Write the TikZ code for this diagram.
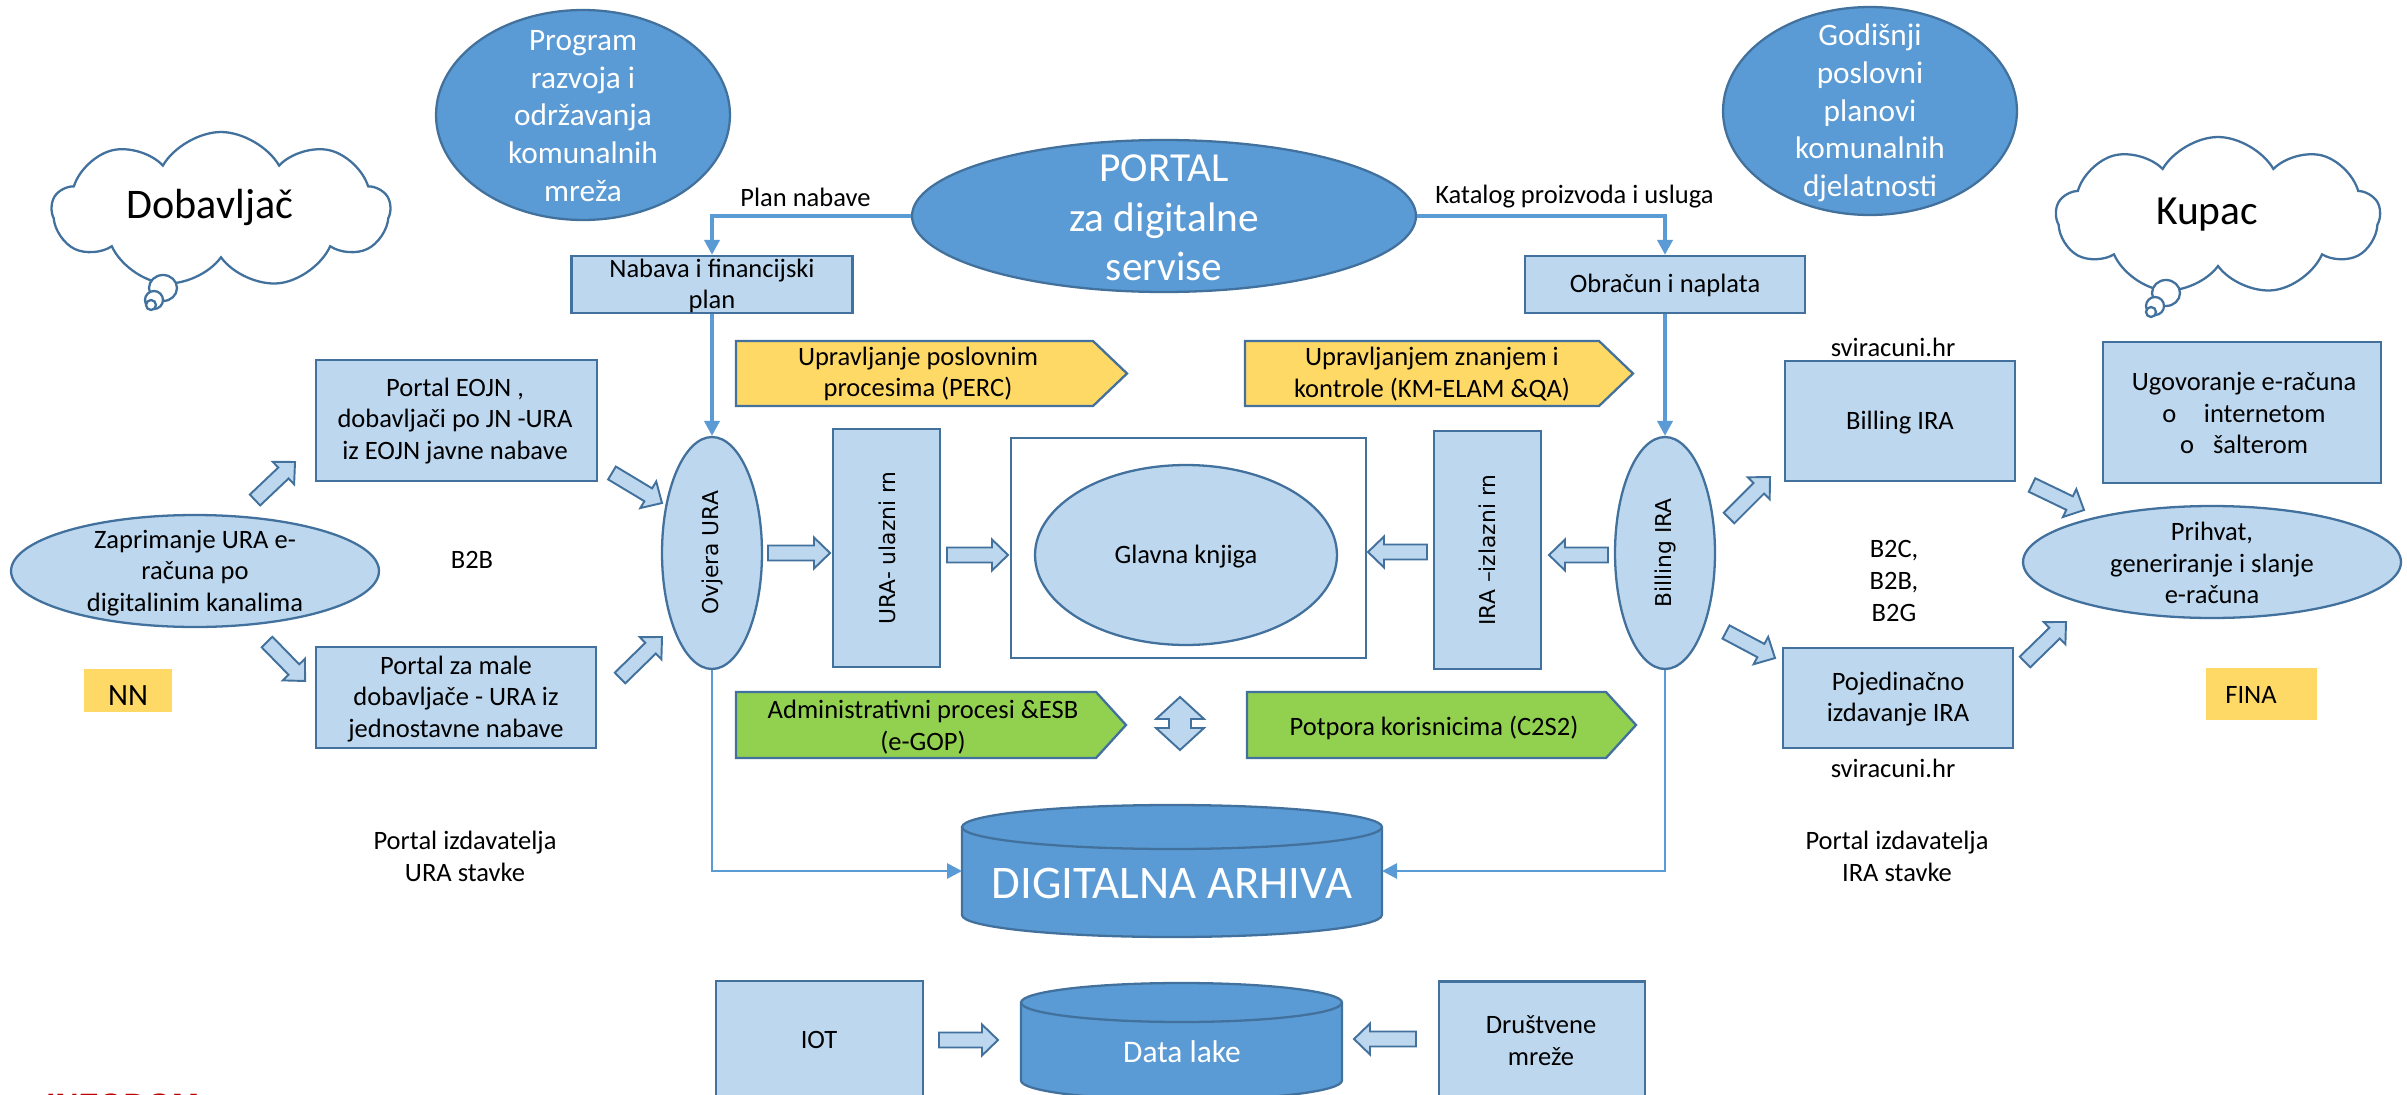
\documentclass[tikz,border=0pt]{standalone}
\usepackage{fontspec}
\setmainfont{Carlito}
\newfontfamily\vfont{DejaVu Sans}
\newfontfamily\afont{Liberation Sans}
\usetikzlibrary{shapes.geometric,shapes.symbols,arrows.meta}
\definecolor{dblue}{HTML}{5B9BD5}
\definecolor{bord}{HTML}{41719C}
\definecolor{lblue}{HTML}{BDD7EE}
\definecolor{ylw}{HTML}{FFD966}
\definecolor{grn}{HTML}{92D050}
\definecolor{ired}{HTML}{C00000}
\newcommand\fs[2]{\fontsize{#1}{#2}\selectfont}
\tikzset{
  box/.style={draw=bord, fill=lblue, line width=1.3pt, inner sep=0, rectangle},
  ell/.style={draw=bord, fill=lblue, line width=1.3pt, inner sep=0, ellipse},
  dell/.style={draw=bord, fill=dblue, line width=1.3pt, inner sep=0, ellipse},
  txt/.style={align=center, inner sep=0, font=\fs{15.1}{18.1}},
  wtxt/.style={align=center, inner sep=0, text=white},
  rtxt/.style={inner sep=0, rotate=90, font=\vfont\fs{12.4}{14}},
  conn/.style={draw=dblue, line width=2.2pt, -{Triangle[length=0.3cm,width=0.3cm]}},
  conn2/.style={draw=dblue, line width=1.6pt, -{Triangle[length=0.3cm,width=0.3cm]}},
  barrowst/.style={draw=bord, fill=lblue, line width=1.1pt, line join=miter},
  chev/.style={draw=bord, line width=1.3pt},
  cloudst/.style={cloud, cloud puffs=9, cloud puff arc=120, cloud ignores aspect, draw=bord, fill=white, line width=1.3pt, inner sep=0},
  tailst/.style={draw=bord, fill=white, line width=1.3pt},
  cyl/.style={draw=bord, fill=dblue, line width=1.3pt},
}
\newcommand\barrow[3]{\draw[barrowst, shift={#1}, rotate=#2] (0,-7.5) -- (#3-16,-7.5) -- (#3-16,-15.5) -- (#3,0) -- (#3-16,15.5) -- (#3-16,7.5) -- (0,7.5) -- cycle;}
\begin{document}
\begin{tikzpicture}[x=0.02cm, y=-0.02cm]
\useasboundingbox (0,0) rectangle (2407,1095);
\fill[white] (0,0) rectangle (2407,1095);
\clip (0,0) rectangle (2407,1095);

% clouds
\node[cloudst, minimum width=6.76cm, minimum height=3.12cm] (dob) at (221,210) {};
\draw[tailst] (163,288) ellipse [x radius=0.28cm, y radius=0.26cm];
\draw[tailst] (154,300) ellipse [x radius=0.18cm, y radius=0.18cm];
\draw[tailst] (151,305) ellipse [x radius=0.1cm, y radius=0.1cm];
\node[font=\fs{24}{28}, inner sep=0] (dobT) at (210,207) {Dobavljač};

\node[cloudst, minimum width=6.48cm, minimum height=3.16cm] (kup) at (2218,216) {};
\draw[tailst] (2166,293) ellipse [x radius=0.28cm, y radius=0.26cm];
\draw[tailst] (2155,306) ellipse [x radius=0.18cm, y radius=0.18cm];
\draw[tailst] (2151,312) ellipse [x radius=0.1cm, y radius=0.1cm];
\node[font=\fs{23.6}{28}, inner sep=0] (kupT) at (2207,215) {Kupac};

% top dark ellipses
\node[dell, minimum width=5.88cm, minimum height=4.2cm] (prog) at (583,115) {};
\node[wtxt, font=\fs{17.8}{21.5}] (progT) at (583,116) {Program\\razvoja i\\održavanja\\komunalnih\\mreža};
\node[dell, minimum width=10.08cm, minimum height=3.04cm] (portal) at (1164,216) {};
\node[wtxt, font=\fs{23.5}{28.3}] (portalT) at (1164,218) {PORTAL\\za digitalne\\servise};
\node[dell, minimum width=5.88cm, minimum height=4.16cm] (god) at (1870,111) {};
\node[wtxt, font=\fs{17.8}{21.5}] (godT) at (1870,113) {Godišnji\\poslovni\\planovi\\komunalnih\\djelatnosti};

\node[txt, anchor=west] (planL) at (740,197) {Plan nabave};
\node[txt, anchor=west] (katL) at (1435,197) {Katalog proizvoda i usluga};

\node[box, minimum width=5.62cm, minimum height=1.14cm] (nab) at (712,284.5) {};
\node[txt] (nabT) at (712,286) {Nabava i financijski\\plan};
\node[box, minimum width=5.6cm, minimum height=1.14cm] (obr) at (1665,284.5) {};
\node[txt] (obrT) at (1665,285) {Obračun i naplata};

% chevrons
\draw[chev, fill=ylw] (736,341) -- (1093,341) -- (1127,373.5) -- (1093,406) -- (736,406) -- cycle;
\node[txt] (percT) at (918,374) {Upravljanje poslovnim\\procesima (PERC)};
\draw[chev, fill=ylw] (1245,341) -- (1599,341) -- (1633,373.5) -- (1599,406) -- (1245,406) -- cycle;
\node[txt] (kmT) at (1432,374) {Upravljanjem znanjem i\\kontrole (KM-ELAM \&QA)};
\draw[chev, fill=grn] (736,692) -- (1096,692) -- (1126,725) -- (1096,758) -- (736,758) -- cycle;
\node[txt] (admT) at (923,727) {Administrativni procesi \&ESB\\(e-GOP)};
\draw[chev, fill=grn] (1247,692) -- (1606,692) -- (1636,725) -- (1606,758) -- (1247,758) -- cycle;
\node[txt] (potT) at (1434,728) {Potpora korisnicima (C2S2)};
\draw[barrowst] (1180,697) -- (1204,719) -- (1191,719) -- (1191,728) -- (1204,728) -- (1180,750) -- (1156,728) -- (1169,728) -- (1169,719) -- (1156,719) -- cycle;

% left side
\node[ell, minimum width=7.36cm, minimum height=2.24cm] (zap) at (195,571) {};
\node[txt] (zapT) at (195,573) {Zaprimanje URA e-\\računa po\\digitalinim kanalima};
\node[box, minimum width=5.62cm, minimum height=2.42cm] (eojn) at (456.5,420.5) {};
\node[txt] (eojnT) at (455,421) {Portal EOJN ,\\dobavljači po JN -URA\\iz EOJN javne nabave};
\node[box, minimum width=5.6cm, minimum height=2.02cm] (male) at (456,697.5) {};
\node[txt] (maleT) at (456,699) {Portal za male\\dobavljače - URA iz\\jednostavne nabave};
\node[txt] (b2b) at (472,560) {B2B};
\node[fill=ylw, minimum width=1.76cm, minimum height=0.86cm, inner sep=0] (nn) at (128,690.5) {};
\node[txt, font=\fs{17.6}{20}] (nnT) at (128,696) {NN};
\node[txt] (pizU) at (465,856) {Portal izdavatelja\\URA stavke};

% centre
\node[ell, minimum width=2cm, minimum height=4.64cm] (ovj) at (712,553) {};
\node[rtxt] (ovjT) at (712,553) {Ovjera URA};
\node[box, minimum width=2.14cm, minimum height=4.76cm] (ura) at (886.5,548) {};
\node[rtxt] (uraT) at (887,548) {URA- ulazni rn};
\node[draw=bord, fill=white, line width=1.3pt, minimum width=7.1cm, minimum height=4.4cm, inner sep=0] (gkbox) at (1188.5,548) {};
\node[ell, minimum width=6.04cm, minimum height=3.6cm] (gk) at (1186,555) {};
\node[txt] (gkT) at (1186,557) {Glavna knjiga};
\node[box, minimum width=2.14cm, minimum height=4.76cm] (ira) at (1487.5,550) {};
\node[rtxt] (iraT) at (1487,550) {IRA –izlazni rn};
\node[ell, minimum width=2cm, minimum height=4.64cm] (bil) at (1665,553) {};
\node[rtxt] (bilT) at (1665,553) {Billing IRA};

% right side
\node[txt] (svi1) at (1893,347) {sviracuni.hr};
\node[box, minimum width=4.6cm, minimum height=2.4cm] (bbox) at (1900,421) {};
\node[txt] (bboxT) at (1900,423) {Billing IRA};
\node[box, minimum width=5.56cm, minimum height=2.82cm] (ugo) at (2242,412.5) {};
\node[txt] (ugoT) at (2244,413) {Ugovoranje e-računa\\o\hspace{0.55cm}internetom\\o\hspace{0.38cm}šalterom};
\node[ell, minimum width=7.56cm, minimum height=2.24cm] (pri) at (2212,562) {};
\node[txt] (priT) at (2212,563) {Prihvat,\\generiranje i slanje\\e-računa};
\node[txt] (b2c) at (1894,581) {B2C,\\B2B,\\B2G};
\node[box, minimum width=4.6cm, minimum height=2cm] (poj) at (1898,698) {};
\node[txt] (pojT) at (1898,699) {Pojedinačno\\izdavanje IRA};
\node[fill=ylw, minimum width=2.22cm, minimum height=1.04cm, inner sep=0] (fina) at (2261.5,694) {};
\node[txt] (finaT) at (2251,695) {FINA};
\node[txt] (svi2) at (1893,768) {sviracuni.hr};
\node[txt] (pizI) at (1897,856) {Portal izdavatelja\\IRA stavke};

% archive cylinder
\draw[cyl] (962,827) -- (962,915) arc[start angle=180, end angle=360, x radius=4.2cm, y radius=0.44cm] -- (1382,827) arc[start angle=0, end angle=180, x radius=4.2cm, y radius=0.44cm] -- cycle;
\draw[draw=bord, line width=1.3pt] (962,827) arc[start angle=180, end angle=360, x radius=4.2cm, y radius=0.44cm];
\node[wtxt, font=\fs{26.6}{30}] (arhT) at (1172,883) {DIGITALNA ARHIVA};
\coordinate (arhL) at (962,871);
\coordinate (arhR) at (1382,871);

% data lake
\node[box, minimum width=4.14cm, minimum height=2.48cm] (iot) at (819.5,1043) {};
\node[txt] (iotT) at (819,1040) {IOT};
\draw[cyl] (1021,1002.5) -- (1021,1080.5) arc[start angle=180, end angle=360, x radius=3.21cm, y radius=0.39cm] -- (1342,1002.5) arc[start angle=0, end angle=180, x radius=3.21cm, y radius=0.39cm] -- cycle;
\draw[draw=bord, line width=1.3pt] (1021,1002.5) arc[start angle=180, end angle=360, x radius=3.21cm, y radius=0.39cm];
\node[wtxt, font=\fs{17.9}{21}] (lakeT) at (1182,1052) {Data lake};
\node[box, minimum width=4.12cm, minimum height=2.48cm] (dru) at (1542,1043.5) {};
\node[txt] (druT) at (1541,1041) {Društvene\\mreže};

% connectors
\draw[conn] (portal.west) -| (nab.north);
\draw[conn] (portal.east) -| (obr.north);
\draw[conn] (nab.south) -- (ovj.north);
\draw[conn] (obr.south) -- (bil.north);
\draw[conn2] (ovj.south) |- (arhL);
\draw[conn2] (bil.south) |- (arhR);

% block arrows
\barrow{(255,500)}{43.5}{55.2}
\barrow{(267,642)}{-45.7}{54.5}
\barrow{(612,473)}{-31}{58.3}
\barrow{(620,678)}{44.3}{58.7}
\barrow{(768,553)}{0}{62}
\barrow{(947,555)}{0}{61}
\barrow{(1427,552)}{180}{59}
\barrow{(1608,555)}{180}{59}
\barrow{(1729,518)}{45}{58}
\barrow{(2032,485)}{-25.7}{57.7}
\barrow{(1726,632)}{-28}{55.5}
\barrow{(2025,662)}{44.3}{57.3}
\barrow{(939,1040)}{0}{59}
\barrow{(1416,1039)}{180}{62}

% logo (cut by the page edge, as in the reference)
\node[anchor=base west, inner sep=0, text=ired, font=\afont\bfseries\fs{18.4}{22}] (logo) at (46,1116) {INFODOM};
\end{tikzpicture}
\end{document}
